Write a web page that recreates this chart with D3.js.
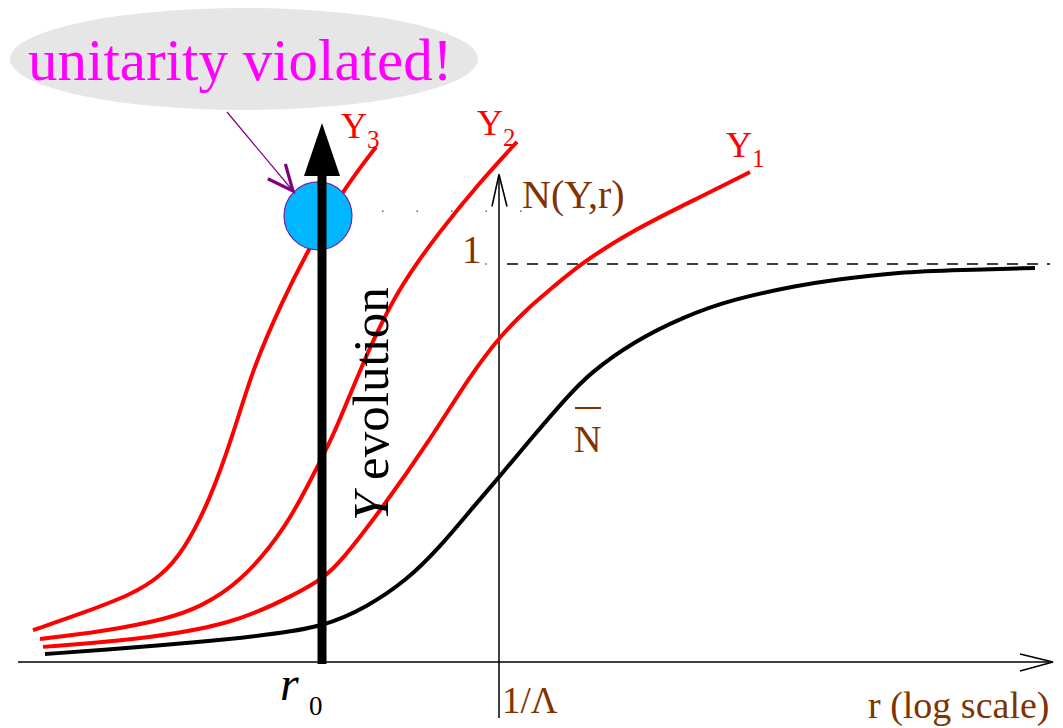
<!DOCTYPE html>
<html>
<head>
<meta charset="utf-8">
<script src="https://cdn.jsdelivr.net/npm/d3@7"></script>
<style>
  html, body { margin: 0; padding: 0; background: #fff; }
  svg { display: block; }
</style>
</head>
<body>
<svg id="chart" width="1063" height="728"></svg>
<script>
// Horizontal coordinate: log10(r·Λ); vertical coordinate: amplitude N.
// Mean-field curve N̄ (black) and rapidly growing evolved curves Y1..Y3 (red).
const nBar = [
  [-4.54, 0.020], [-3.99, 0.030], [-2.99, 0.050], [-2.32, 0.068], [-1.76, 0.088],
  [-1.32, 0.138], [-0.92, 0.206], [-0.59, 0.289], [-0.26, 0.389], [0.01, 0.467],
  [0.31, 0.558], [0.68, 0.666], [0.91, 0.726], [1.34, 0.804], [1.84, 0.867],
  [2.34, 0.912], [3.01, 0.947], [3.34, 0.960], [4.01, 0.980], [4.61, 0.985],
  [5.36, 0.990]
];
const curveY1 = [
  [-4.56, 0.038], [-3.66, 0.055], [-2.66, 0.093], [-1.99, 0.176], [-1.76, 0.211],
  [-1.59, 0.249], [-1.16, 0.389], [-0.69, 0.558], [-0.29, 0.719], [0.01, 0.819],
  [0.31, 0.894], [0.51, 0.935], [0.81, 1.000], [1.34, 1.085], [2.01, 1.168],
  [2.51, 1.231]
];
const curveY2 = [
  [-4.59, 0.058], [-3.99, 0.075], [-3.32, 0.108], [-2.99, 0.138], [-2.59, 0.198],
  [-2.12, 0.339], [-1.82, 0.490], [-1.66, 0.565], [-1.36, 0.754], [-1.02, 0.935],
  [-0.59, 1.083], [-0.19, 1.206], [0.18, 1.307]
];
const curveY3 = [
  [-4.66, 0.080], [-4.16, 0.123], [-3.66, 0.171], [-3.39, 0.214], [-3.16, 0.276],
  [-2.89, 0.407], [-2.66, 0.570], [-2.46, 0.739], [-2.17, 0.905], [-1.92, 1.030],
  [-1.56, 1.186], [-1.23, 1.294]
];
const curveNames = ["Y1", "Y2", "Y3"];

// Reference positions on the axes
const logRMin = -4.81, logRMax = 5.54;   // extent of the r axis
const logR0 = -1.77;                     // r0, where Y evolution is followed
const logRLambda = 0;                    // 1/Λ
const unitarityN = 1;                    // N = 1 bound
const blobN = 1.121;                     // where Y3 crosses r0 beyond N = 1
const dottedN = 1.133;
const nAxisTop = 1.225;

const serif = "'Liberation Serif', 'Times New Roman', 'DejaVu Serif', serif";
const svg = d3.select("#chart");
const x = d3.scaleLinear().domain([-4.8, 5.5]).range([19, 1049]);
const y = d3.scaleLinear().domain([0, 1]).range([662, 264]);

const brown = "#803300";
const red = "#ff0000";

function label(xp, yp, str, size, color) {
  return svg.append("text").attr("x", xp).attr("y", yp)
    .attr("font-family", serif).attr("font-size", size)
    .attr("fill", color).text(str);
}

// Callout bubble
svg.append("ellipse")
  .attr("cx", 244).attr("cy", 59).attr("rx", 234).attr("ry", 51)
  .attr("fill", "#e6e6e6");
label(28, 80, "unitarity violated!", 59, "#ff00ff");

// Guide lines
svg.append("line")
  .attr("x1", 382).attr("x2", 522)
  .attr("y1", y(dottedN)).attr("y2", y(dottedN))
  .attr("stroke", "#444").attr("stroke-width", 1.3)
  .attr("stroke-dasharray", "1.5,33");
svg.append("circle")
  .attr("cx", 486).attr("cy", y(unitarityN)).attr("r", 0.8).attr("fill", "#333");
svg.append("line")
  .attr("x1", x(0.08)).attr("x2", x(5.51))
  .attr("y1", y(unitarityN)).attr("y2", y(unitarityN))
  .attr("stroke", "#000").attr("stroke-width", 1.3)
  .attr("stroke-dasharray", "11,9");

// Axes drawn as plain arrows
const axisG = svg.append("g").attr("stroke", "#000").attr("fill", "none");
axisG.append("line")
  .attr("x1", x(logRMin)).attr("x2", x(logRMax))
  .attr("y1", y(0)).attr("y2", y(0)).attr("stroke-width", 1.5);
axisG.append("path")
  .attr("d", `M${x(logRMax) - 33},${y(0) - 8}L${x(logRMax)},${y(0)}L${x(logRMax) - 33},${y(0) + 9}`)
  .attr("stroke-width", 1.6);
axisG.append("line")
  .attr("x1", x(logRLambda)).attr("x2", x(logRLambda))
  .attr("y1", 718).attr("y2", y(nAxisTop)).attr("stroke-width", 1.5);
axisG.append("path")
  .attr("d", `M${x(logRLambda) - 7},${y(nAxisTop) + 32}L${x(logRLambda)},${y(nAxisTop)}L${x(logRLambda) + 8},${y(nAxisTop) + 32}`)
  .attr("stroke-width", 1.6);

// Curves
const line = d3.line()
  .x(d => x(d[0])).y(d => y(d[1]))
  .curve(d3.curveBasis);

svg.append("path").datum(nBar)
  .attr("d", line).attr("fill", "none")
  .attr("stroke", "#000").attr("stroke-width", 4);
[curveY1, curveY2, curveY3].forEach((c, i) => {
  svg.append("path").datum(c)
    .attr("class", "curve-" + curveNames[i])
    .attr("d", line).attr("fill", "none")
    .attr("stroke", red).attr("stroke-width", 4);
});

// Blob marking where unitarity is violated
const bx = x(logR0) - 4, by = y(blobN);
svg.append("circle")
  .attr("cx", bx).attr("cy", by).attr("r", 34)
  .attr("fill", "#00b7ff").attr("stroke", "#7a1fa2").attr("stroke-width", 1.2);

// Pointer from the bubble to the blob
const tip = [293, 191], tail = [227, 112];
const ang = Math.atan2(tip[1] - tail[1], tip[0] - tail[0]);
const headLen = 28, spread = 0.42;
svg.append("line")
  .attr("x1", tail[0]).attr("y1", tail[1]).attr("x2", tip[0]).attr("y2", tip[1])
  .attr("stroke", "#800080").attr("stroke-width", 1.2);
svg.append("path")
  .attr("d", `M${tip[0] - headLen * Math.cos(ang - spread)},${tip[1] - headLen * Math.sin(ang - spread)}` +
             `L${tip[0]},${tip[1]}` +
             `L${tip[0] - headLen * Math.cos(ang + spread)},${tip[1] - headLen * Math.sin(ang + spread)}`)
  .attr("fill", "none").attr("stroke", "#800080").attr("stroke-width", 3.2);

// Thick Y-evolution arrow at r0
const ax = x(logR0);
svg.append("line")
  .attr("x1", ax).attr("x2", ax).attr("y1", y(0) + 2).attr("y2", 172)
  .attr("stroke", "#000").attr("stroke-width", 9);
svg.append("path")
  .attr("d", `M${ax - 18},176L${ax},123L${ax + 18},176Z`)
  .attr("fill", "#000");

svg.append("text")
  .attr("transform", "translate(388,521) rotate(-90)")
  .attr("font-family", serif).attr("font-size", 51).attr("fill", "#000")
  .call(t => {
    t.append("tspan").attr("font-style", "italic").text("Y");
    t.append("tspan").text(" evolution");
  });

// Curve labels with subscripts
function subLabel(xp, yp, main, sub, color, size, subSize, dy) {
  const t = svg.append("text").attr("x", xp).attr("y", yp)
    .attr("font-family", serif).attr("font-size", size).attr("fill", color);
  t.append("tspan").text(main);
  t.append("tspan").attr("font-size", subSize).attr("dy", dy).text(sub);
  return t;
}
subLabel(341, 138, "Y", "3", red, 36, 25, 10);
subLabel(477, 135, "Y", "2", red, 36, 25, 11);
subLabel(726, 157, "Y", "1", red, 36, 25, 10);

label(522, 208, "N(Y,r)", 40, brown);
label(462, 263, "1", 39, brown);

label(574, 452, "N", 38, brown);
svg.append("line").attr("x1", 575).attr("x2", 601).attr("y1", 408).attr("y2", 408)
  .attr("stroke", brown).attr("stroke-width", 2);

label(280, 700, "r", 48, "#000").attr("font-style", "italic");
label(309, 715, "0", 27, "#000");

label(502, 713, "1/Λ", 37, brown);
label(868, 718, "r (log scale)", 38, brown);
</script>
</body>
</html>
